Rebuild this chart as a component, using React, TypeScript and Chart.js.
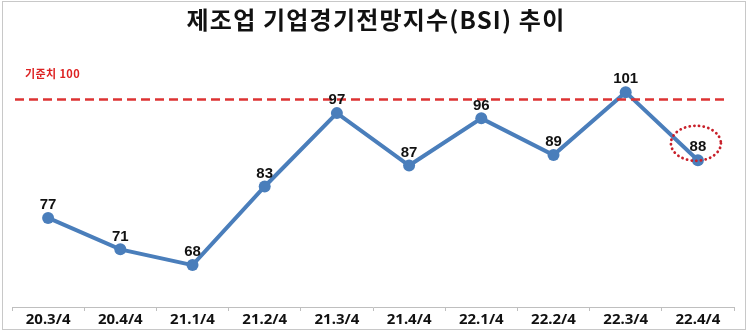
import React, { useEffect, useRef } from "react";
import { Chart, registerables } from "chart.js";

Chart.register(...registerables);

const titleText = "제조업 기업경기전망지수(BSI) 추이";
const categories = ["20.3/4", "20.4/4", "21.1/4", "21.2/4", "21.3/4", "21.4/4", "22.1/4", "22.2/4", "22.3/4", "22.4/4"];
const bsiValues = [77, 71, 68, 83, 97, 87, 96, 89, 101, 88];
const referenceValue = 100;
const referenceLabel = "기준치 100";
const highlightIndex = 9;

const overlayPlugin = {
  id: "overlay",
  afterDatasetsDraw(chart: any) {
    const ctx = chart.ctx;
    const y = chart.scales.y;
    const meta = chart.getDatasetMeta(0);
    ctx.save();
    // title
    ctx.fillStyle = "#111111";
    ctx.font = "bold 24px 'Noto Sans CJK KR', sans-serif";
    ctx.textAlign = "center";
    ctx.textBaseline = "middle";
    try { (ctx as any).letterSpacing = "1.2px"; } catch (e) {}
    ctx.fillText(titleText, 376, 20);
    // reference line
    const ry = y.getPixelForValue(referenceValue) + 2;
    ctx.strokeStyle = "#dd3333";
    ctx.lineWidth = 2.5;
    ctx.setLineDash([9, 5]);
    ctx.beginPath();
    ctx.moveTo(15, ry);
    ctx.lineTo(726, ry);
    ctx.stroke();
    ctx.setLineDash([]);
    ctx.fillStyle = "#dd2222";
    ctx.font = "bold 11px 'Noto Sans CJK KR', sans-serif";
    try { (ctx as any).letterSpacing = "0.4px"; } catch (e) {}
    ctx.textAlign = "left";
    ctx.textBaseline = "middle";
    ctx.fillText(referenceLabel, 25, ry - 26);
    try { (ctx as any).letterSpacing = "0px"; } catch (e) {}
    // data labels
    ctx.fillStyle = "#111111";
    ctx.font = "bold 15px 'Liberation Sans', Arial, sans-serif";
    ctx.textAlign = "center";
    ctx.textBaseline = "middle";
    meta.data.forEach((pt: any, i: number) => {
      ctx.fillText(String(bsiValues[i]), pt.x, pt.y - 13);
    });
    // highlight dotted ellipse
    const hp = meta.data[highlightIndex];
    ctx.strokeStyle = "#c8202a";
    ctx.lineWidth = 2.8;
    ctx.lineCap = "round";
    ctx.setLineDash([0.1, 4.6]);
    ctx.beginPath();
    ctx.ellipse(hp.x - 2, hp.y - 17, 25, 17.5, 0, 0, Math.PI * 2);
    ctx.stroke();
    ctx.restore();
  },
};

export default function App() {
  const ref = useRef<HTMLCanvasElement | null>(null);
  useEffect(() => {
    if (!ref.current) return;
    const chart = new Chart(ref.current, {
      type: "line",
      data: {
        labels: categories,
        datasets: [
          {
            data: bsiValues,
            borderColor: "#4a7ebb",
            backgroundColor: "#4a7ebb",
            borderWidth: 4,
            pointRadius: 6,
            pointBackgroundColor: "#4a7ebb",
            pointBorderWidth: 0,
            tension: 0,
          },
        ],
      },
      options: {
        responsive: false,
        animation: false,
        layout: { padding: { left: 12, right: 16, top: 45, bottom: 4 } },
        plugins: {
          legend: { display: false },
          tooltip: { enabled: false },
          title: { display: false },
        },
        scales: {
          x: {
            offset: true,
            grid: {
              display: true,
              offset: true,
              drawOnChartArea: false,
              drawTicks: true,
              tickLength: 4,
              color: "#bfbfbf",
            },
            border: { display: true, color: "#bfbfbf", width: 1 },
            ticks: {
              color: "#111111",
              padding: 0,
              font: { family: "'Noto Sans', sans-serif", size: 15, weight: "bold" },
              maxRotation: 0,
            },
          },
          y: {
            display: false,
            min: 60,
            max: 110,
          },
        },
      },
      plugins: [overlayPlugin],
    });
    return () => chart.destroy();
  }, []);
  return (
    <div style={{ position: "fixed", left: 0, top: 0, width: 750, height: 333, background: "#ffffff" }}>
      <canvas ref={ref} width={750} height={333} style={{ display: "block", position: "absolute", left: 0, top: 0 }} />
      <div
        style={{
          position: "absolute",
          left: 2,
          top: 1,
          width: 742,
          height: 327,
          border: "1px solid #c8c8c8",
          pointerEvents: "none",
        }}
      />
    </div>
  );
}
